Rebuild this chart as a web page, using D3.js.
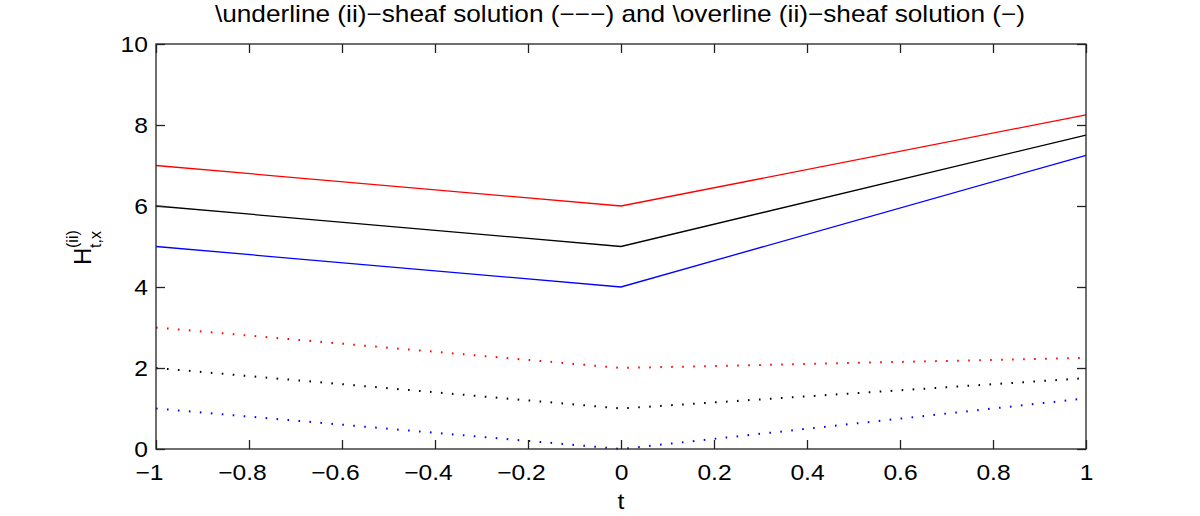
<!DOCTYPE html>
<html><head><meta charset="utf-8">
<script src="https://cdn.jsdelivr.net/npm/d3@7"></script>
<style>body{margin:0;background:#fff}svg{display:block}text{font-family:"Liberation Sans",Arial,sans-serif}</style>
</head><body><svg id="c" width="1200" height="516"></svg>
<script>
const tVals = [-1, 0, 1];
const solidRed = [7, 6, 8.25];
const solidBlack = [6, 5, 7.75];
const solidBlue = [5, 4, 7.25];
const dotRed = [3, 2, 2.25];
const dotBlack = [2, 1, 1.75];
const dotBlue = [1, 0, 1.25];
const xTicks = [-1, -0.8, -0.6, -0.4, -0.2, 0, 0.2, 0.4, 0.6, 0.8, 1];
const yTicks = [0, 2, 4, 6, 8, 10];
const titleText = "\\underline (ii)\u2212sheaf solution (\u2212\u2212\u2212) and \\overline (ii)\u2212sheaf solution (\u2212)";

const svg = d3.select("#c");
const L = 156, R = 1086, T = 44, B = 449;
const x = d3.scaleLinear().domain([-1, 1]).range([L, R]);
const y = d3.scaleLinear().domain([0, 10]).range([B, T]);
const fmt = d => d === 0 ? "0" : String(d).replace("-", "\u2212");
const SX = 1.12;

const series = [
  {v: solidRed, c: "#ff0000", dash: null},
  {v: solidBlack, c: "#000000", dash: null},
  {v: solidBlue, c: "#0000ff", dash: null},
  {v: dotRed, c: "#ff0000", dash: "1.6,9.4"},
  {v: dotBlack, c: "#000000", dash: "1.6,9.4"},
  {v: dotBlue, c: "#0000ff", dash: "1.6,9.4"}
];
const line = d3.line().x((d, i) => x(tVals[i])).y(d => y(d));
series.forEach(s => {
  svg.append("path").attr("d", line(s.v)).attr("fill", "none")
    .attr("stroke", s.c).attr("stroke-width", s.dash ? 2 : 1.3)
    .attr("stroke-dasharray", s.dash);
});

// axes
const tl = 9;
const ax = svg.append("g").attr("transform", `translate(0,${B})`)
  .call(d3.axisBottom(x).tickValues(xTicks).tickFormat(fmt).tickSizeInner(-tl).tickSizeOuter(0).tickPadding(15));
const axT = svg.append("g").attr("transform", `translate(0,${T})`)
  .call(d3.axisTop(x).tickValues(xTicks).tickFormat("").tickSizeInner(-tl).tickSizeOuter(0));
const ay = svg.append("g").attr("transform", `translate(${L},0)`)
  .call(d3.axisLeft(y).tickValues(yTicks).tickFormat(fmt).tickSizeInner(-tl).tickSizeOuter(0).tickPadding(8));
const ayR = svg.append("g").attr("transform", `translate(${R},0)`)
  .call(d3.axisRight(y).tickValues(yTicks).tickFormat("").tickSizeInner(-tl).tickSizeOuter(0));
[ax, axT, ay, ayR].forEach(g => {
  g.selectAll("path.domain").remove();
  g.selectAll("line").attr("stroke", "#222").attr("stroke-width", 1.3);
  g.selectAll("text").attr("font-size", 22).attr("fill", "#000")
    .attr("font-family", "'Liberation Sans',Arial,sans-serif");
});
ax.selectAll(".tick text").each(function(d) {
  const t = d3.select(this);
  const shift = d < 0 ? -7 : 0;
  t.attr("x", 0).attr("transform", `translate(${shift},0) scale(${SX},1)`);
});
ay.selectAll(".tick text").attr("x", 0).attr("transform", `translate(-8,0) scale(${SX},1)`);

svg.append("rect").attr("x", L).attr("y", T).attr("width", R - L).attr("height", B - T)
  .attr("fill", "none").attr("stroke", "#222").attr("stroke-width", 1.3);

// title
svg.append("text").attr("transform", `translate(${(L + R) / 2 - 1},22) scale(1.14,1)`)
  .attr("text-anchor", "middle").attr("font-size", 23).text(titleText);
// x label
svg.append("text").attr("transform", `translate(${(L + R) / 2},509) scale(${SX},1)`)
  .attr("text-anchor", "middle").attr("font-size", 22).text("t");
// y label
const yl = svg.append("text").attr("transform", `translate(91,265) rotate(-90)`)
  .attr("font-size", 24);
yl.append("tspan").attr("x", 0).attr("y", 0).text("H");
yl.append("tspan").attr("font-size", 16).attr("x", 17).attr("y", 10).text("t,x");
yl.append("tspan").attr("font-size", 16).attr("x", 17).attr("y", -13).text("(ii)");
</script></body></html>
